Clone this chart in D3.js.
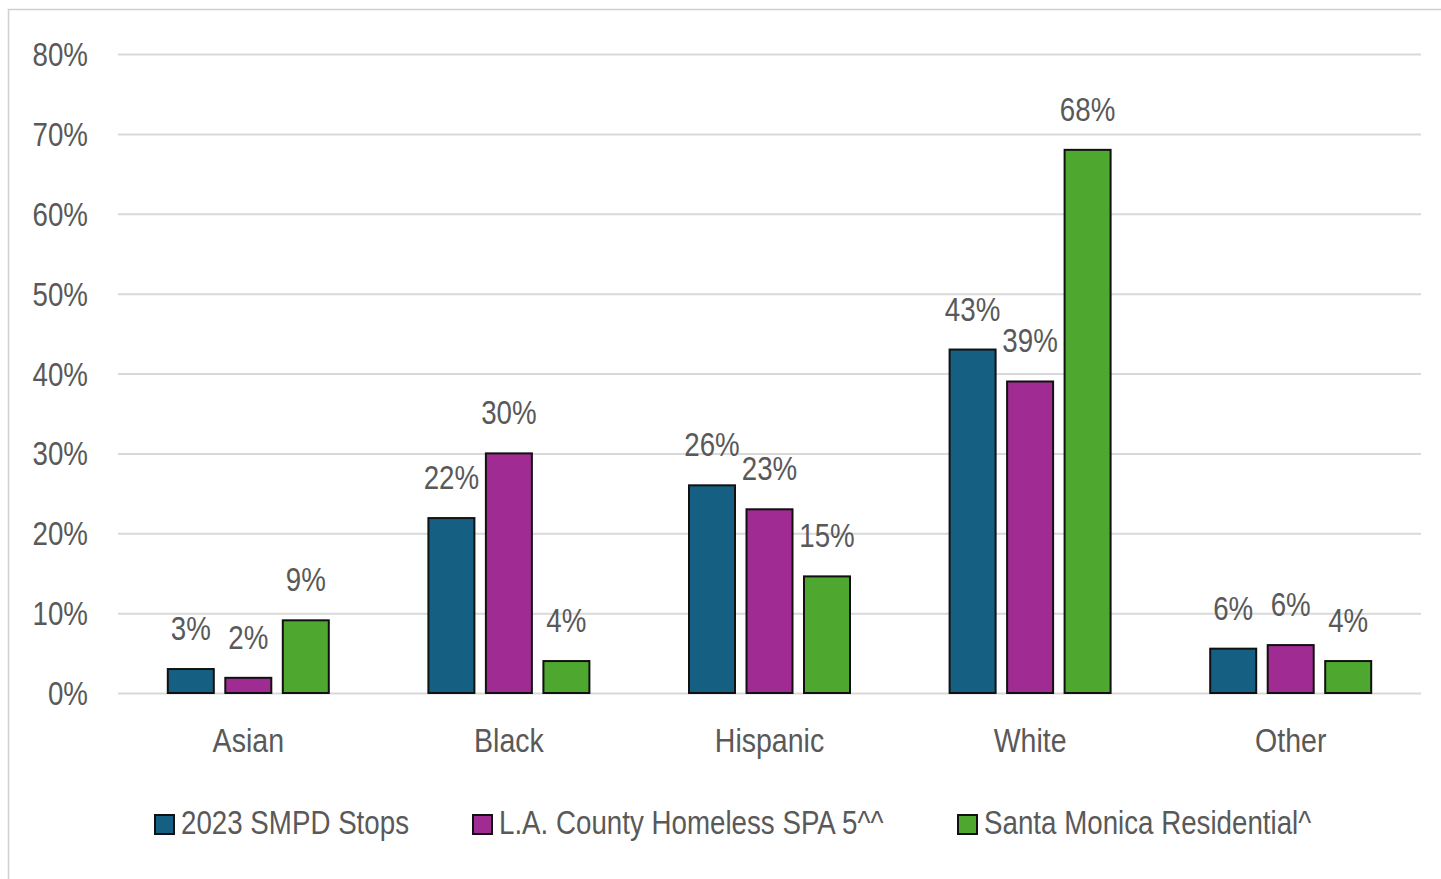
<!DOCTYPE html>
<html>
<head>
<meta charset="utf-8">
<script src="https://cdn.jsdelivr.net/npm/d3@7"></script>
<style>
  html, body { margin: 0; padding: 0; background: #fff; }
  svg { display: block; }
  text { font-family: "Liberation Sans", Arial, sans-serif; fill: #595959; }
</style>
</head>
<body>
<svg id="chart" width="1441" height="879"></svg>
<script>
const categories = ["Asian", "Black", "Hispanic", "White", "Other"];
const seriesNames = ["2023 SMPD Stops", "L.A. County Homeless SPA 5^^", "Santa Monica Residential^"];
const smpdStops = [0.030, 0.219, 0.260, 0.430, 0.0555];
const laHomeless = [0.019, 0.300, 0.230, 0.390, 0.060];
const smResidential = [0.091, 0.040, 0.146, 0.680, 0.040];
const seriesColors = ["#156082", "#A02B93", "#4EA72E"];
const yTicks = [0, 0.1, 0.2, 0.3, 0.4, 0.5, 0.6, 0.7, 0.8];

const seriesValues = [smpdStops, laHomeless, smResidential];
const svg = d3.select("#chart");
const W = 1441, H = 879;
const SX = 0.84;      // horizontal condensing to mimic a narrow face
const FS = 33;

svg.append("rect").attr("x", 8.5).attr("y", 9.5).attr("width", W).attr("height", H)
  .attr("fill", "#fff").attr("stroke", "#cfcfcf").attr("stroke-width", 1.5);

const plotLeft = 118, plotRight = 1421, plotTop = 54, plotBottom = 693;
const y = d3.scaleLinear().domain([0, 0.8]).range([plotBottom, plotTop]);
const x0 = d3.scaleBand().domain(categories).range([plotLeft, plotRight]).paddingInner(0).paddingOuter(0);
const groupW = 161;
const x1 = d3.scaleBand().domain(d3.range(seriesNames.length)).range([0, groupW]).paddingInner(0.2).paddingOuter(0);

// gridlines + y labels
const yAxis = d3.axisLeft(y).tickValues(yTicks).tickFormat(d3.format(".0%")).tickSize(-(plotRight - plotLeft)).tickPadding(30);
const gy = svg.append("g").attr("transform", `translate(${plotLeft},0)`).call(yAxis);
gy.select(".domain").remove();
gy.selectAll(".tick line").attr("stroke", "#d9d9d9").attr("stroke-width", 2);
gy.selectAll(".tick text").attr("font-size", FS).attr("fill", "#595959")
  .attr("x", -30 / SX).attr("dy", "0.35em").attr("transform", `scale(${SX},1)`)
  .style("font-family", "\"Liberation Sans\", Arial, sans-serif");

// bars
const data = [];
categories.forEach((c, i) => seriesValues.forEach((s, j) => data.push({ cat: c, s: j, v: s[i] })));
const barX = d => x0(d.cat) + (x0.bandwidth() - groupW) / 2 + x1(d.s);
const barG = svg.append("g");
barG.selectAll("rect").data(data).join("rect")
  .attr("x", barX)
  .attr("y", d => y(d.v))
  .attr("width", x1.bandwidth())
  .attr("height", d => y(0) - y(d.v))
  .attr("fill", d => seriesColors[d.s])
  .attr("stroke", "#111").attr("stroke-width", 2);

// value labels
barG.selectAll("text.val").data(data).join("text").attr("class", "val")
  .attr("transform", d => `translate(${barX(d) + x1.bandwidth() / 2},${y(d.v) - 29}) scale(${SX},1)`)
  .attr("text-anchor", "middle").attr("font-size", FS)
  .text(d => d3.format(".0%")(d.v));

// category labels
const xAxis = d3.axisBottom(x0).tickSize(0).tickPadding(0);
const gx = svg.append("g").attr("transform", `translate(0,${plotBottom})`).call(xAxis);
gx.select(".domain").remove();
gx.selectAll(".tick text").attr("font-size", FS + 1).attr("fill", "#595959").attr("y", 59).attr("dy", 0)
  .attr("transform", `scale(${SX},1)`)
  .style("font-family", "\"Liberation Sans\", Arial, sans-serif");

// legend
const legendX = [155, 473, 958];
const lg = svg.append("g");
seriesNames.forEach((n, j) => {
  lg.append("rect").attr("x", legendX[j]).attr("y", 815).attr("width", 19).attr("height", 19)
    .attr("fill", seriesColors[j]).attr("stroke", "#111").attr("stroke-width", 2);
  lg.append("text").attr("transform", `translate(${legendX[j] + 26},834) scale(${SX},1)`)
    .attr("font-size", FS).text(n);
});
</script>
</body>
</html>
